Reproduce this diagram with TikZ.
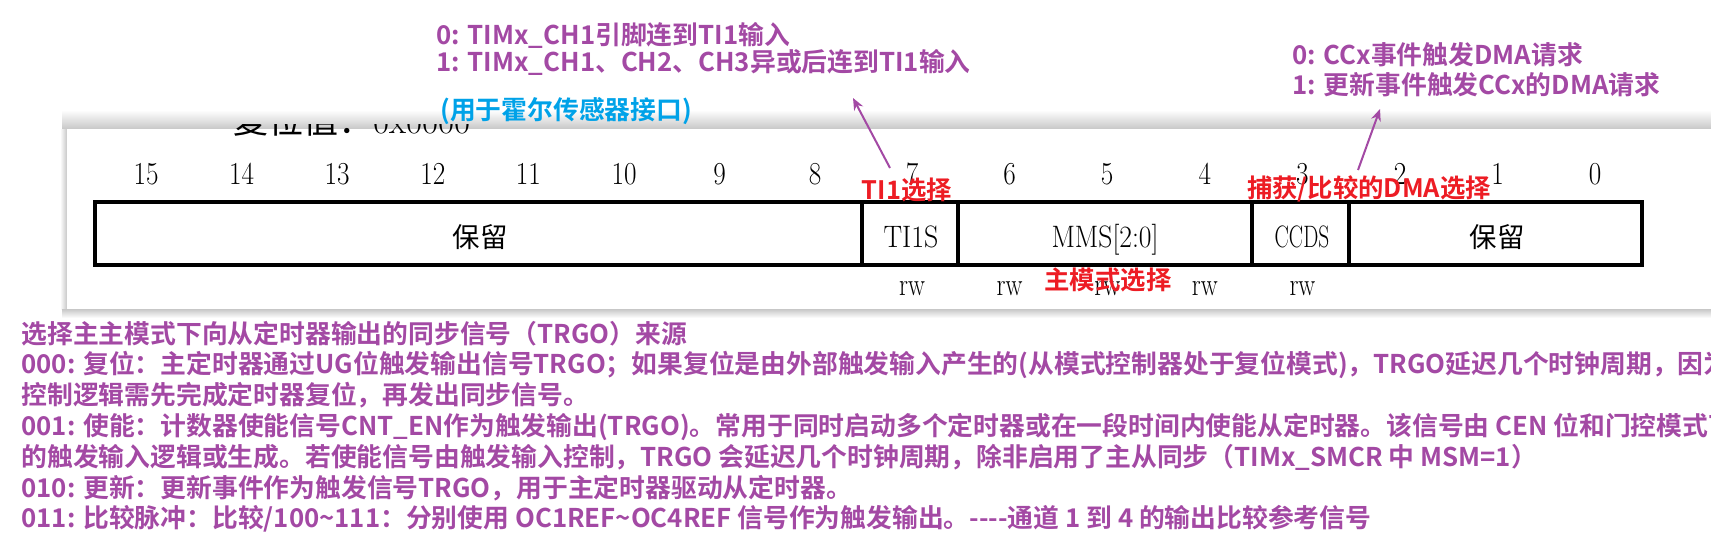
\documentclass[tikz,border=0pt]{standalone}
\usepackage{fontspec}
\usepackage{graphicx}
\usetikzlibrary{arrows.meta}
\newfontfamily\hei{Noto Sans CJK SC}[BoldFont=* Bold]
\newfontfamily\song{Noto Sans CJK SC}
\definecolor{purp}{HTML}{A349A4}
\definecolor{redc}{HTML}{ED1C24}
\definecolor{bluec}{HTML}{00A2E8}
\newcommand{\nar}[2][0.85]{\scalebox{#1}[1]{#2}}
\tikzset{
  note/.style={anchor=base west,inner sep=0pt,purp,font=\hei\bfseries\fontsize{12.9}{15}\selectfont},
  tag/.style={anchor=base,inner sep=0pt,redc,font=\hei\bfseries\fontsize{12.7}{15}\selectfont},
  bitno/.style={anchor=base,inner sep=0pt,font=\fontsize{16}{18}\selectfont},
  fieldtxt/.style={anchor=base,inner sep=0pt,font=\fontsize{15.5}{18}\selectfont},
  cjk/.style={inner sep=0pt,font=\song\fontsize{13.7}{16}\selectfont},
  field/.style={line width=1.6pt},
  pointer/.style={-{Stealth[length=6pt,width=5pt]},purp,line width=1pt}
}

\begin{document}
\begin{tikzpicture}[x=0.5pt,y=-0.5pt]
\useasboundingbox (0,0) rectangle (1711,546);
% screenshot panel and its shadow
\shade[top color=white,bottom color=black!22] (62,110) rectangle (1711,129);
\shade[left color=white,right color=black!22] (60,129) rectangle (67,309);
\shade[top color=black!22,bottom color=white] (62,309) rectangle (1711,318);
\fill[white] (67,129) rectangle (1711,309);
% reset value line, only its lower edge shows
\node[anchor=base west,inner sep=0pt,font=\fontsize{17.5}{20}\selectfont] (rstval) at (233,133) {{\song 复位值：}0x0000};
\fill[white] (150,85) rectangle (600,110);
\shade[top color=white,bottom color=black!15] (150,110) rectangle (600,123.5);
% register fields
\draw[field] (95,202) rectangle (1642,265);
\foreach \x in {862,958,1252,1349} \draw[field] (\x,202) -- (\x,265);
\node[cjk] (rsvh) at (480,237) {保留};
\node[fieldtxt] (ti1s) at (911,247) {\nar[0.9]{TI1S}};
\node[fieldtxt] (mms) at (1105,247) {\nar[0.89]{MMS[2:0]}};
\node[fieldtxt] (ccds) at (1302,247) {\nar[0.69]{CCDS}};
\node[cjk] (rsvl) at (1497,237) {保留};
% bit numbers and access
\foreach \b in {15,...,8} \node[bitno] (b\b) at ({146+(15-\b)*95.6},184) {\nar{\b}};
\foreach \b in {7,...,0} \node[bitno] (b\b) at ({912+(7-\b)*97.6},184) {\nar{\b}};
\foreach \b in {7,...,3} \node[bitno] (rw\b) at (b\b |- 0,295) {\nar[0.79]{rw}};
% red tags
\node[tag] (ti1sel) at (907,199.5) {TI1选择};
\node[tag] (dmasel) at (1369,197.5) {捕获/比较的DMA选择};
\node[tag] (mmssel) at (1108,289.5) {主模式选择};
% notes on top
\node[note] (ti1n0) at (436,44.5) {0: TIMx\_CH1引脚连到TI1输入};
\node[note] (ti1n1) at (436,71) {1: TIMx\_CH1、CH2、CH3异或后连到TI1输入};
\node[note,bluec] (hall) at (440,119) {(用于霍尔传感器接口)};
\node[note] (dman0) at (1292,64) {0: CCx事件触发DMA请求};
\node[note] (dman1) at (1292,94.5) {1: 更新事件触发CCx的DMA请求};
\coordinate (ti1tail) at (890,168);
\coordinate (ti1head) at (853,98);
\draw[pointer] (ti1tail) -- (ti1head);
\coordinate (dmatail) at (1358,170);
\coordinate (dmahead) at (1380,109);
\draw[pointer] (dmatail) -- (dmahead);
% MMS description
\node[note] (mms0) at (21,343) {选择主主模式下向从定时器输出的同步信号（TRGO）来源};
\node[note] (mms1) at (21,373.8) {000: 复位：主定时器通过UG位触发输出信号TRGO；如果复位是由外部触发输入产生的(从模式控制器处于复位模式)，TRGO延迟几个时钟周期，因为};
\node[note] (mms2) at (21,404.6) {控制逻辑需先完成定时器复位，再发出同步信号。};
\node[note] (mms3) at (21,435.4) {001: 使能：计数器使能信号CNT\_EN作为触发输出(TRGO)。常用于同时启动多个定时器或在一段时间内使能从定时器。该信号由 CEN 位和门控模式下};
\node[note] (mms4) at (21,466.2) {的触发输入逻辑或生成。若使能信号由触发输入控制，TRGO 会延迟几个时钟周期，除非启用了主从同步（TIMx\_SMCR 中 MSM=1）};
\node[note] (mms5) at (21,497) {010: 更新：更新事件作为触发信号TRGO，用于主定时器驱动从定时器。};
\node[note] (mms6) at (21,527.8) {011: 比较脉冲：比较/100\textasciitilde111：分别使用 OC1REF\textasciitilde OC4REF 信号作为触发输出。{-}{-}{-}{-}通道 1 到 4 的输出比较参考信号};
\end{tikzpicture}
\end{document}
